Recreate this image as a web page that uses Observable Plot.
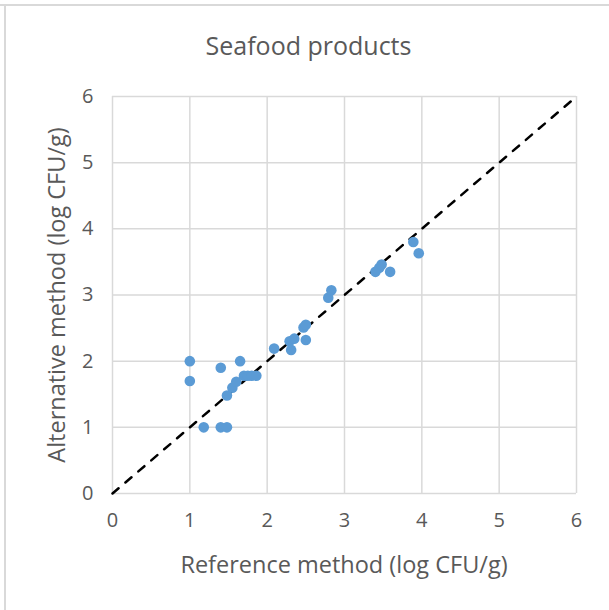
<!DOCTYPE html>
<html>
<head>
<meta charset="utf-8">
<script src="https://cdn.jsdelivr.net/npm/d3@7"></script>
<script src="https://cdn.jsdelivr.net/npm/@observablehq/plot@0.6"></script>
<style>
  body { margin: 0; background: #fff; }
  #wrap { position: relative; width: 609px; height: 610px; overflow: hidden; font-family: "Open Sans", sans-serif; color: #595959; }
  #frameTop { position: absolute; left: 0; top: 4px; width: 609px; height: 2px; background: #d9d9d9; }
  #frameLeft { position: absolute; left: 4px; top: 4px; width: 2px; height: 606px; background: #d9d9d9; }
  #title { position: absolute; left: 0; width: 617px; top: 45px; transform: translateY(-50%); text-align: center; font-size: 25px; line-height: 1; }
  #xlab { position: absolute; left: 112px; width: 464px; top: 565px; transform: translateY(-50%); text-align: center; font-size: 23.5px; line-height: 1; }
  #ylab { position: absolute; left: 57px; top: 295px; font-size: 23.5px; line-height: 1; white-space: nowrap; transform: translate(-50%, -50%) rotate(-90deg); }
  #chart { position: absolute; left: 0; top: 0; }
</style>
</head>
<body>
<div id="wrap">
  <div id="frameTop"></div>
  <div id="frameLeft"></div>
  <div id="chart"></div>
  <div id="title">Seafood products</div>
  <div id="xlab">Reference method (log CFU/g)</div>
  <div id="ylab">Alternative method (log CFU/g)</div>
</div>
<script>
const titleText = "Seafood products";
const xLabel = "Reference method (log CFU/g)";
const yLabel = "Alternative method (log CFU/g)";
const tickValues = [0, 1, 2, 3, 4, 5, 6];

const referenceValues = [1.00, 1.00, 1.18, 1.40, 1.48, 1.40, 1.65, 1.48, 1.55, 1.60, 1.70, 1.75, 1.80, 1.86, 2.09, 2.29, 2.31, 2.35, 2.47, 2.50, 2.50, 2.79, 2.83, 3.40, 3.45, 3.48, 3.59, 3.89, 3.96];
const alternativeValues = [2.00, 1.70, 1.00, 1.00, 1.00, 1.90, 2.00, 1.48, 1.60, 1.69, 1.78, 1.78, 1.78, 1.78, 2.19, 2.30, 2.17, 2.34, 2.51, 2.55, 2.32, 2.96, 3.07, 3.35, 3.41, 3.46, 3.35, 3.80, 3.63];

const identityLine = [{x: 0, y: 0}, {x: 6, y: 6}];

const points = referenceValues.map((x, i) => ({x, y: alternativeValues[i]}));

const chart = Plot.plot({
  width: 609,
  height: 610,
  marginLeft: 112,
  marginRight: 33,
  marginTop: 96,
  marginBottom: 117,
  style: {fontFamily: "Open Sans, sans-serif", fontSize: "20px", color: "#595959", background: "transparent", overflow: "visible"},
  x: {domain: [0, 6], ticks: tickValues},
  y: {domain: [0, 6], ticks: tickValues},
  marks: [
    Plot.gridX(tickValues, {stroke: "#d9d9d9", strokeOpacity: 1, strokeWidth: 1.5}),
    Plot.gridY(tickValues, {stroke: "#d9d9d9", strokeOpacity: 1, strokeWidth: 1.5}),
    Plot.axisX(tickValues, {tickSize: 0, tickPadding: 19, label: null, fill: "#595959", fontSize: 20, tickFormat: d3.format("d")}),
    Plot.axisY(tickValues, {tickSize: 0, tickPadding: 19, label: null, fill: "#595959", fontSize: 20, tickFormat: d3.format("d")}),
    Plot.line(identityLine, {x: "x", y: "y", stroke: "#000", strokeWidth: 2.5, strokeDasharray: "8,9", strokeLinecap: "round"}),
    Plot.dot(points, {x: "x", y: "y", r: 5.3, fill: "#5b9bd5", stroke: "none"})
  ]
});
document.getElementById("chart").appendChild(chart);
</script>
</body>
</html>
